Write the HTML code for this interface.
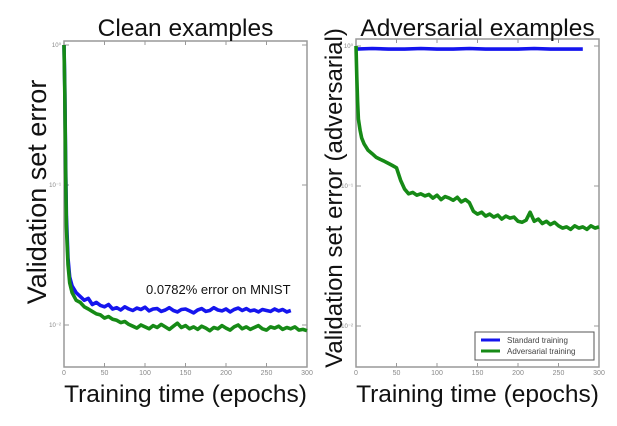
<!DOCTYPE html>
<html><head><meta charset="utf-8"><style>
html,body{margin:0;padding:0;background:#fff;}
svg{display:block;font-family:"Liberation Sans",sans-serif;}
</style></head><body>
<svg id="chart" width="617" height="426" viewBox="0 0 617 426"></svg>
<script>
const tickEpochs=[0,50,100,150,200,250,300];
const tickExps=[0,-1,-2];
const earlyEpochs=[0,1,2,3,5,7,10];
const cleanStdVals=[1.0,0.5,0.15,0.06,0.03,0.022,0.019,
0.017,0.016,0.015,0.0155,0.014,0.0145,0.0138,0.0135,0.014,0.013,
0.0133,0.0128,0.0135,0.013,0.0127,0.0132,0.0129,0.0134,0.0126,0.013,
0.0131,0.0125,0.0128,0.0133,0.0127,0.0124,0.0129,0.013,0.0126,0.0122,
0.0128,0.0131,0.0125,0.0127,0.0133,0.0128,0.0126,0.013,0.0124,0.0129,
0.0132,0.0127,0.0131,0.0126,0.0128,0.0124,0.0129,0.0127,0.0125,0.013,
0.0126,0.0129,0.0124,0.0127];
const cleanAdvVals=[1.0,0.45,0.13,0.05,0.027,0.02,0.017,
0.015,0.0145,0.0135,0.013,0.0125,0.012,0.0118,0.0112,0.0115,0.011,
0.0108,0.0104,0.0106,0.0101,0.0098,0.0095,0.01,0.0097,0.0094,0.0099,
0.0096,0.0101,0.0097,0.0093,0.0098,0.0103,0.0096,0.0099,0.0094,0.0097,
0.0093,0.0098,0.0095,0.0091,0.0096,0.0094,0.0099,0.0095,0.0092,0.0097,
0.01,0.0094,0.0097,0.0093,0.0096,0.0099,0.0094,0.0092,0.0097,0.0095,
0.0098,0.0093,0.0096,0.0094,0.0097,0.0092,0.0093,0.0091];
const advStdEpochs=[0,20,40,60,80,100,120,140,160,180,200,220,240,260,280];
const advStdVals=[0.95,0.96,0.95,0.95,0.96,0.95,0.95,0.96,0.95,0.95,0.95,0.96,0.95,0.95,0.95];
const advAdvVals=[1.0,0.6,0.4,0.3,0.25,0.22,0.2,
0.18,0.17,0.16,0.155,0.15,0.145,0.14,0.135,0.11,0.095,
0.088,0.09,0.086,0.088,0.085,0.087,0.082,0.086,0.08,0.084,
0.082,0.079,0.083,0.077,0.08,0.076,0.066,0.063,0.065,0.061,
0.063,0.06,0.062,0.058,0.061,0.059,0.06,0.056,0.055,0.057,
0.065,0.056,0.058,0.054,0.056,0.053,0.055,0.052,0.05,0.051,
0.049,0.052,0.05,0.051,0.049,0.052,0.05,0.051];

const NS="http://www.w3.org/2000/svg";
const svg=document.getElementById('chart');
function mk(tag,attrs,parent){const e=document.createElementNS(NS,tag);for(const k in attrs)e.setAttribute(k,attrs[k]);(parent||svg).appendChild(e);return e;}
function epochsFor(n){const a=earlyEpochs.slice();let e=15;while(a.length<n){a.push(e);e+=5;}return a;}

function panel(p){
  const g=mk('g',{});
  
  
  const x=v=>p.x0+(v/300)*(p.x1-p.x0);
  const y=v=>p.y10+(-Math.log10(v))*p.dec;
  const frame=mk('rect',{x:p.x0,y:p.yt,width:p.x1-p.x0,height:p.yb-p.yt,fill:'#fff',stroke:'#999','stroke-width':1.5},g);
  
  
  tickEpochs.forEach(t=>{
    mk('line',{x1:x(t),x2:x(t),y1:p.yb,y2:p.yb-4,stroke:'#999'},g);
    mk('line',{x1:x(t),x2:x(t),y1:p.yt,y2:p.yt+4,stroke:'#999'},g);
    const tl=mk('text',{x:x(t),y:p.yb+8,'font-size':7,fill:'#888','text-anchor':'middle'},g);
    tl.textContent=t;
    
    
  });
  tickExps.forEach(e=>{
    const yy=y(Math.pow(10,e));
    mk('line',{x1:p.x0,x2:p.x0+5,y1:yy,y2:yy,stroke:'#999'},g);
    mk('line',{x1:p.x1,x2:p.x1-5,y1:yy,y2:yy,stroke:'#999'},g);
    const tl=mk('text',{x:p.x0-3,y:yy+2,'font-size':6,fill:'#888','text-anchor':'end'},g);
    tl.textContent='10'+(e===0?'⁰':(e===-1?'⁻¹':'⁻²'));
    
    
  });
  p.series.forEach(s=>{
    const pts=s.vals.map((v,i)=>x(s.ep[i]).toFixed(1)+','+y(v).toFixed(1)).join(' ');
    const l=mk('polyline',{points:pts,fill:'none',stroke:s.color,'stroke-width':3.6,'stroke-linejoin':'round'},g);
    
    
  });
  const t=mk('text',{x:(p.x0+p.x1)/2,y:36,'font-size':24.5,fill:'#111','text-anchor':'middle'},g);
  t.textContent=p.title;
  
  
  const xl=mk('text',{x:(p.x0+p.x1)/2,y:402,'font-size':24.5,fill:'#111','text-anchor':'middle'},g);
  xl.textContent='Training time (epochs)';
  
  
  const yl=mk('text',{x:0,y:0,'font-size':p.ysize,fill:'#111','text-anchor':'middle',transform:`translate(${p.ylx},${p.ylc}) rotate(-90)`},g);
  yl.textContent=p.ytitle;
  
  
  return {x,y,g};
}

panel({name:'clean-examples-panel',x0:64,x1:307,yt:41,yb:367,y10:45,dec:140,title:'Clean examples',ytitle:'Validation set error',ylx:46,ylc:192,ysize:27,
  series:[{name:'standard-training-line',color:'#1515ee',ep:epochsFor(cleanStdVals.length),vals:cleanStdVals},
          {name:'adversarial-training-line',color:'#168a16',ep:epochsFor(cleanAdvVals.length),vals:cleanAdvVals}]});
const ann=mk('text',{x:146,y:294,'font-size':13,fill:'#111'});
ann.textContent='0.0782% error  on MNIST';



panel({name:'adversarial-examples-panel',x0:356,x1:599,yt:39,yb:367,y10:46,dec:140,title:'Adversarial examples',ytitle:'Validation set error (adversarial)',ylx:342,ylc:198,ysize:24,
  series:[{name:'standard-training-line',color:'#1515ee',ep:advStdEpochs,vals:advStdVals},
          {name:'adversarial-training-line',color:'#168a16',ep:epochsFor(advAdvVals.length),vals:advAdvVals}]});
const lg=mk('g',{});


mk('rect',{x:475,y:332,width:119,height:28,fill:'#fff',stroke:'#555','stroke-width':1},lg);
[['Standard training','#1515ee',343],['Adversarial training','#168a16',354]].forEach(([lab,c,yy])=>{
  const e=mk('g',{},lg);
  
  
  mk('line',{x1:481,x2:500,y1:yy-3,y2:yy-3,stroke:c,'stroke-width':3},e);
  const t=mk('text',{x:507,y:yy,'font-size':8,fill:'#444'},e);
  t.textContent=lab;
});
</script>
</body></html>
